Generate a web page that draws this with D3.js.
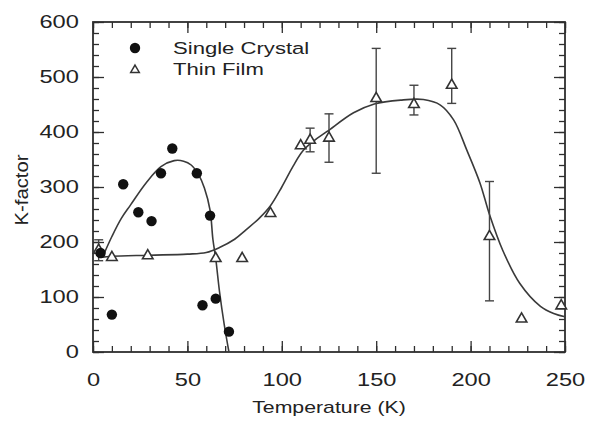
<!DOCTYPE html>
<html>
<head>
<meta charset="utf-8">
<script src="https://cdn.jsdelivr.net/npm/d3@7"></script>
<style>
  html, body { margin: 0; padding: 0; background: #fff; }
  svg { display: block; }
  text { font-family: "Liberation Sans", Arial, Helvetica, sans-serif; fill: #222; }
</style>
</head>
<body>
<svg id="chart" width="593" height="425"></svg>
<script>
// Single crystal measurements: temperature (K) and K-factor
const crystalT = [4, 10, 16, 24, 31, 36, 42, 55, 58, 62, 65, 72];
const crystalK = [180, 68, 305, 254, 238, 325, 370, 325, 85, 248, 97, 37];

// Thin film measurements with error bounds (null where no error bar)
const filmT  = [3, 10, 29, 65, 79, 94, 110, 115, 125, 150, 170, 190, 210, 227, 248];
const filmK  = [185, 172, 175, 170, 170, 252, 375, 385, 389, 461, 450, 485, 210, 60, 84];
const filmLo = [166, null, null, null, null, null, null, 364, 345, 325, 431, 452, 93, null, null];
const filmHi = [204, null, null, null, null, null, null, 407, 433, 552, 485, 552, 310, null, null];

// Guide curves through each data set
const crystalFitT = [5, 10, 15, 20, 28, 36, 43, 48, 52, 56, 59, 62, 63.5, 65, 67, 69.5, 72];
const crystalFitK = [172, 210, 243, 268, 307, 337, 348, 347, 340, 322, 298, 258, 205, 170, 110, 50, 0];
const filmFitT = [4, 10, 30, 50, 60, 67, 75, 81, 88, 94, 100, 106, 111, 117, 124, 138, 149, 163, 175, 184, 191, 198, 205, 210, 217, 226, 237, 244, 250];
const filmFitK = [172, 174, 176, 178, 181, 190, 205, 222, 243, 266, 300, 338, 365, 384, 401, 435, 451, 458, 459, 449, 422, 367, 307, 250, 185, 125, 83, 70, 64];

// Axis ticks and labels
const xMajor = [0, 50, 100, 150, 200, 250];
const xMinor = d3.range(0, 251, 10);
const yMajor = [0, 100, 200, 300, 400, 500, 600];
const yMinor = d3.range(0, 601, 20);
const xTitle = "Temperature (K)";
const yTitle = "K-factor";
const legendLabels = ["Single Crystal", "Thin Film"];

const svg = d3.select("#chart");
const plot = { left: 93, right: 565, top: 22, bottom: 352 };
const ink = "#2e2e2e";
const TEXT_SX = 1.35;

const x = d3.scaleLinear().domain([0, 250]).range([plot.left, plot.right]);
const y = d3.scaleLinear().domain([0, 600]).range([plot.bottom, plot.top]);

// Tick marks on all four sides, pointing inward
function ticksOn(axisFn, scale, values, len, transform) {
  const g = svg.append("g").attr("transform", transform)
    .call(axisFn(scale).tickValues(values).tickSize(len).tickFormat(""));
  g.select(".domain").remove();
  g.selectAll("line").attr("stroke", ink).attr("stroke-width", 1.3);
  return g;
}
ticksOn(d3.axisBottom, x, xMinor, -6, `translate(0,${plot.bottom})`);
ticksOn(d3.axisBottom, x, xMajor, -11, `translate(0,${plot.bottom})`);
ticksOn(d3.axisTop, x, xMinor, -6, `translate(0,${plot.top})`);
ticksOn(d3.axisTop, x, xMajor, -11, `translate(0,${plot.top})`);
ticksOn(d3.axisLeft, y, yMinor, -6, `translate(${plot.left},0)`);
ticksOn(d3.axisLeft, y, yMajor, -11, `translate(${plot.left},0)`);
ticksOn(d3.axisRight, y, yMinor, -6, `translate(${plot.right},0)`);
ticksOn(d3.axisRight, y, yMajor, -11, `translate(${plot.right},0)`);

// Tick labels
const xLab = svg.append("g").attr("transform", `translate(0,${plot.bottom})`)
  .call(d3.axisBottom(x).tickValues(xMajor).tickSize(0).tickPadding(22).tickFormat(d3.format("d")));
xLab.select(".domain").remove();
xLab.selectAll("text").attr("font-size", 17.5).attr("fill", "#222")
  .attr("font-family", "Liberation Sans, Arial, sans-serif")
  .attr("transform", `scale(${TEXT_SX},1)`);

const yLab = svg.append("g").attr("transform", `translate(${plot.left},0)`)
  .call(d3.axisLeft(y).tickValues(yMajor).tickSize(0).tickPadding(10.5).tickFormat(d3.format("d")));
yLab.select(".domain").remove();
yLab.selectAll("text").attr("font-size", 17.5).attr("fill", "#222")
  .attr("font-family", "Liberation Sans, Arial, sans-serif")
  .attr("transform", `scale(${TEXT_SX},1)`);

// Frame
svg.append("rect")
  .attr("x", plot.left).attr("y", plot.top)
  .attr("width", plot.right - plot.left).attr("height", plot.bottom - plot.top)
  .attr("fill", "none").attr("stroke", ink).attr("stroke-width", 1.8);

// Axis titles
svg.append("text")
  .attr("transform", `translate(${(plot.left + plot.right) / 2},413) scale(1.33,1)`)
  .attr("text-anchor", "middle").attr("font-size", 16).text(xTitle);
svg.append("text")
  .attr("transform", `translate(27.5,${(plot.top + plot.bottom) / 2 + 3}) rotate(-90) scale(1.16,1)`)
  .attr("text-anchor", "middle").attr("font-size", 17.5).text(yTitle);

// Guide curves
const line = d3.line().curve(d3.curveCatmullRom.alpha(0.5));
svg.append("path")
  .attr("d", line(crystalFitT.map((t, i) => [x(t), y(crystalFitK[i])])))
  .attr("fill", "none").attr("stroke", "#3a3a3a").attr("stroke-width", 1.6);
svg.append("path")
  .attr("d", line(filmFitT.map((t, i) => [x(t), y(filmFitK[i])])))
  .attr("fill", "none").attr("stroke", "#3a3a3a").attr("stroke-width", 1.6);

// Error bars on the thin film points
const film = filmT.map((t, i) => ({ t, k: filmK[i], lo: filmLo[i], hi: filmHi[i] }));
const withErr = film.filter(d => d.lo !== null);
const eb = svg.append("g").attr("stroke", "#444").attr("stroke-width", 1.4);
eb.selectAll("line.v").data(withErr).join("line")
  .attr("x1", d => x(d.t)).attr("x2", d => x(d.t))
  .attr("y1", d => y(d.lo)).attr("y2", d => y(d.hi));
eb.selectAll("line.top").data(withErr).join("line")
  .attr("x1", d => x(d.t) - 4.5).attr("x2", d => x(d.t) + 4.5)
  .attr("y1", d => y(d.hi)).attr("y2", d => y(d.hi));
eb.selectAll("line.bot").data(withErr).join("line")
  .attr("x1", d => x(d.t) - 4.5).attr("x2", d => x(d.t) + 4.5)
  .attr("y1", d => y(d.lo)).attr("y2", d => y(d.lo));

// Thin film markers: open triangles
const tri = d3.symbol().type(d3.symbolTriangle).size(48);
svg.append("g").selectAll("path").data(film).join("path")
  .attr("d", tri)
  .attr("transform", d => `translate(${x(d.t)},${y(d.k)})`)
  .attr("fill", "#fff").attr("stroke", "#333").attr("stroke-width", 1.6);

// Single crystal markers: filled circles
svg.append("g").selectAll("circle").data(crystalT).join("circle")
  .attr("cx", d => x(d)).attr("cy", (d, i) => y(crystalK[i]))
  .attr("r", 5.2).attr("fill", "#111");

// Legend
const legend = svg.append("g");
legend.append("circle").attr("cx", 135).attr("cy", 48).attr("r", 5.2).attr("fill", "#111");
legend.append("path").attr("d", d3.symbol().type(d3.symbolTriangle).size(32)())
  .attr("transform", "translate(135,70)")
  .attr("fill", "#fff").attr("stroke", "#333").attr("stroke-width", 1.5);
legend.selectAll("text").data(legendLabels).join("text")
  .attr("transform", (d, i) => `translate(173,${54 + i * 21}) scale(1.3,1)`)
  .attr("font-size", 17).text(d => d);
</script>
</body>
</html>
